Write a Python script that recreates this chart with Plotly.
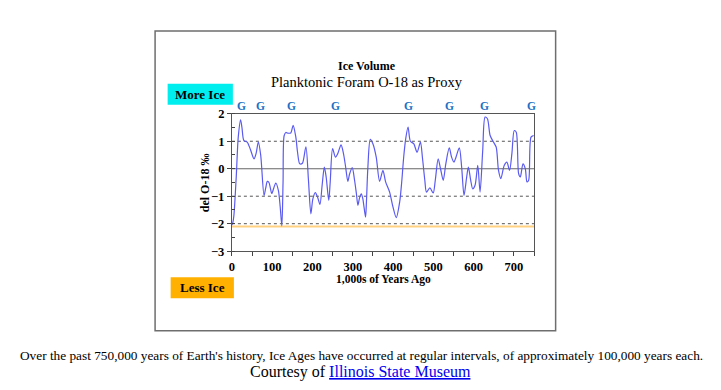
import plotly.graph_objects as go

# ---------------- data ----------------
years_ago = [0, 2.5, 5, 10.8, 15.8, 21.6, 25, 29.9, 38, 46, 54.9, 60, 65.7, 71.5, 79.8, 84, 88, 92, 99, 104,
             109, 115.5, 120, 124, 127, 129.7, 134, 138, 146, 152, 158.7, 163, 168.5, 175, 183.7, 190, 196,
             201, 207, 213, 218.6, 224, 229.5, 234, 240.5, 244, 250, 257, 262.8, 271, 277, 282, 287.8, 292,
             298.7, 304.5, 309, 312.8, 317, 321.2, 325, 328, 331.8, 334, 337.6, 343.5, 350, 358.3, 366.6,
             374.9, 381.6, 391.5, 399.8, 408, 416.5, 422, 426.4, 431.4, 437.3, 443, 451.4, 459.7, 468, 473,
             478.9, 483, 491.4, 499.7, 505, 512, 517.9, 524.6, 531, 539.5, 545.4, 551.2, 556.2, 564.5, 570.3,
             576.2, 582.8, 587, 592.8, 597.8, 603.6, 610.3, 616, 622.6, 628.5, 634.3, 641, 649.3, 656, 661.8,
             667.6, 675.9, 682.6, 689.2, 695, 700.9, 705.8, 711.7, 715.9, 722.5, 728.3, 732.5, 736.6, 742.5, 749]
del_o18 = [-2.05, -1.95, -1.7, -0.3, 1.15, 1.78, 1.5, 1.02, 0.97, 0.7, 0.36, 0.55, 0.97, 0.5, -0.97, -0.7,
           -0.46, -0.5, -0.9, -0.7, -0.52, -0.8, -1.4, -2.08, -0.5, 1.2, 1.32, 1.3, 1.3, 1.58, 1.15, 0.6, 0.18,
           0.2, 0.8, -0.4, -1.64, -1.1, -0.87, -1.05, -1.3, -0.6, 0.06, -0.3, -1.15, -0.5, 0.73, 0.42, 0.55,
           0.87, 0.55, 0.1, -0.46, -0.2, 0.04, -0.42, -0.9, -1.33, -1.05, -0.91, -1.09, -1.4, -1.76, -1.2, 0.06,
           1.07, 0.91, 0.42, -0.46, -0.06, -0.48, -0.85, -1.39, -1.78, -1.21, -0.4, 0.42, 1.09, 1.52, 1.0, 0.91,
           0.6, 0.97, 0.4, -0.42, -0.85, -0.7, -0.88, -0.4, 0.36, 0.0, -0.42, 0.18, 0.76, 0.42, 0.24, 0.42, 0.76,
           0.06, -0.97, -0.3, 0.06, -0.42, -0.73, -0.6, 0.12, -0.85, 0.67, 1.88, 1.82, 1.21, 0.97, 0.79, -0.06,
           -0.36, 0.12, 0.24, -0.06, 0.55, 1.39, 1.33, -0.18, -0.3, 0.18, 0.0, -0.48, -0.42, 1.15, 1.21]
glacial_x = [25, 71, 149, 256, 438, 541, 628, 744]
dashed_levels = [1, -1, -2]
zero_level = 0
orange_level = -2.1
x_tick_vals = [0, 100, 200, 300, 400, 500, 600, 700]
y_tick_vals = [2, 1, 0, -1, -2, -3]

W, H = 721, 390
SERIF = "Liberation Serif, Times New Roman, serif"


# target-pixel -> paper fraction (compensates the observed rendering offset/scale)
def px(x):
    return ((x - 3.0) / 0.992) / W


def py(y):
    return 1 - ((y - 7.5) / 0.9615) / H


fig = go.Figure()
fig.add_trace(go.Scatter(x=years_ago, y=del_o18, mode="lines",
                         line=dict(color="#5a5af0", width=1.2, shape="spline", smoothing=0.8),
                         hoverinfo="x+y", showlegend=False))

# reference lines
for lv in dashed_levels:
    fig.add_shape(type="line", xref="x domain", yref="y", x0=0, x1=1, y0=lv, y1=lv,
                  line=dict(color="#555555", width=1, dash="3px,3px"), layer="below")
fig.add_shape(type="line", xref="x domain", yref="y", x0=0, x1=1, y0=zero_level, y1=zero_level,
              line=dict(color="#666666", width=1.2), layer="below")
fig.add_shape(type="line", xref="x domain", yref="y", x0=0, x1=1, y0=orange_level, y1=orange_level,
              line=dict(color="#ffd080", width=2), layer="below")

# outer frame
fig.add_shape(type="rect", xref="paper", yref="paper", x0=px(154.5), x1=px(553.5), y0=py(31.5), y1=py(330.5),
              line=dict(color="#6e6e6e", width=1.5), fillcolor="rgba(0,0,0,0)")
# More Ice / Less Ice boxes
fig.add_shape(type="rect", xref="paper", yref="paper", x0=px(167), x1=px(232), y0=py(84), y1=py(105),
              line=dict(width=0), fillcolor="#00eeee")
fig.add_shape(type="rect", xref="paper", yref="paper", x0=px(170), x1=px(233), y0=py(277), y1=py(298),
              line=dict(width=0), fillcolor="#ffb000")

ann = []
ann.append(dict(text="<b>More Ice</b>", x=px(199.5), y=py(94.5), font=dict(size=13, family=SERIF, color="black")))
ann.append(dict(text="<b>Less Ice</b>", x=px(201.5), y=py(287.5), font=dict(size=13, family=SERIF, color="black")))
ann.append(dict(text="<b>Ice Volume</b>", x=px(366), y=py(66), font=dict(size=12, family=SERIF, color="black")))
ann.append(dict(text="Planktonic Foram O-18 as Proxy", x=px(366), y=py(82), font=dict(size=14.5, family=SERIF, color="black")))
ann.append(dict(text="<b>1,000s of Years Ago</b>", x=px(382), y=py(279), font=dict(size=11.5, family=SERIF, color="black")))
ann.append(dict(text="<b>del O-18 ‰</b>", x=px(205), y=py(182.5), textangle=-90,
                font=dict(size=12, family=SERIF, color="black")))
ann.append(dict(text="Over the past 750,000 years of Earth's history, Ice Ages have occurred at regular intervals, of approximately 100,000 years each.",
                x=px(360), y=py(355), font=dict(size=13.3, family=SERIF, color="black")))
ann.append(dict(text='Courtesy of <span style="color:#0000ee"><u>Illinois State Museum</u></span>',
                x=px(359.5), y=py(372), font=dict(size=16, family=SERIF, color="black")))
for a in ann:
    a.update(xref="paper", yref="paper", showarrow=False, xanchor="center", yanchor="middle")
for g in glacial_x:
    ann.append(dict(text="<b>G</b>", x=g, xref="x", y=py(106), yref="paper", showarrow=False,
                    xanchor="center", yanchor="middle", font=dict(size=11.5, family=SERIF, color="#1a70c4")))

fig.update_layout(
    width=W, height=H, margin=dict(l=0, r=0, t=0, b=0),
    paper_bgcolor="white", plot_bgcolor="white",
    annotations=ann, showlegend=False,
    xaxis=dict(domain=[px(231), px(532)], range=[0, 750], tickvals=x_tick_vals,
               ticks="outside", ticklen=4, tickcolor="#444", showgrid=False, zeroline=False,
               showline=True, linecolor="#555", linewidth=1, mirror=True,
               minor=dict(dtick=50, ticks="outside", ticklen=4, tickcolor="#444"),
               tickfont=dict(family=SERIF, size=12.5, color="black", weight="bold")),
    yaxis=dict(domain=[py(251), py(114)], range=[-3, 2], tickvals=y_tick_vals,
               ticks="outside", ticklen=4, tickcolor="#444", showgrid=False, zeroline=False,
               showline=True, linecolor="#555", linewidth=1, mirror=True,
               minor=dict(dtick=0.5, ticks="inside", ticklen=3, tickcolor="#444"),
               tickfont=dict(family=SERIF, size=12.5, color="black", weight="bold")),
)

post = ("var gd=document.getElementById('{plot_id}');"
        "var de=document.documentElement;de.style.margin='0';de.style.padding='0';de.style.overflow='hidden';"
        "document.body.style.margin='0';document.body.style.padding='0';document.body.style.overflow='hidden';"
        "gd.style.position='fixed';gd.style.left='0px';gd.style.top='0px';")
fig.write_html("out.html", config={"displayModeBar": False}, post_script=post)
